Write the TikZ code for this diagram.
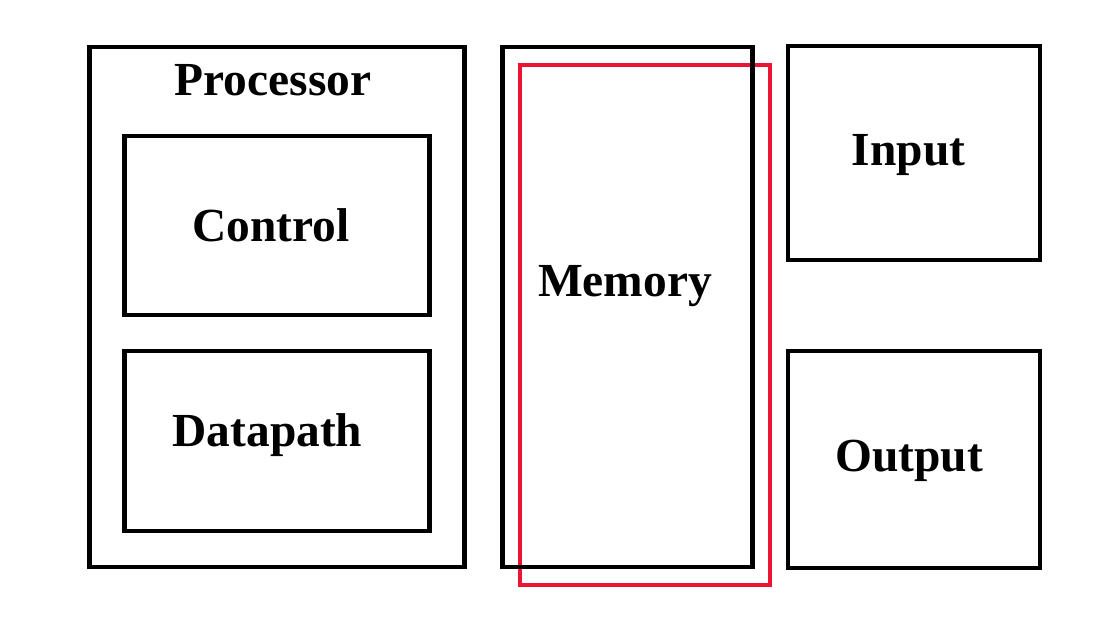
\documentclass[tikz,border=0pt]{standalone}
\usepackage{fontspec}
\setmainfont{Liberation Serif}
\usetikzlibrary{positioning}
\definecolor{memred}{RGB}{235,20,50}

\begin{document}
\begin{tikzpicture}
    [x=0.02cm,y=-0.02cm,
     box/.style={draw, line width=2.5pt, inner sep=0pt},
     lbl/.style={anchor=base, font=\fontsize{27}{32}\selectfont\bfseries}]
  \useasboundingbox (0,0) rectangle (1105,641);
  % boxes
  \node[box, draw=memred, minimum width=5.0cm, minimum height=10.4cm] (memwin) at (645,325) {};
  \node[box, minimum width=7.5cm, minimum height=10.4cm] (proc) at (277,307) {};
  \node[box, minimum width=6.1cm, minimum height=3.57cm] (ctrl) at (277,225.5) {};
  \node[box, minimum width=6.1cm, minimum height=3.59cm] (dpath) at (277,441) {};
  \node[box, minimum width=5.0cm, minimum height=10.4cm] (mem) at (627.5,307) {};
  \node[box, minimum width=5.03cm, minimum height=4.27cm] (inp) at (914,153) {};
  \node[box, minimum width=5.03cm, minimum height=4.33cm] (outp) at (914,459.5) {};

  % labels
  \foreach \name/\x/\y/\txt in {proc/273/96/Processor, ctrl/271/242/Control,
      dpath/267.5/447/Datapath, mem/625/297/Memory, inp/908.5/166/Input, outp/909/472/Output}
    \node[lbl] (\name-t) at (\x,\y) {\txt};
\end{tikzpicture}
\end{document}
